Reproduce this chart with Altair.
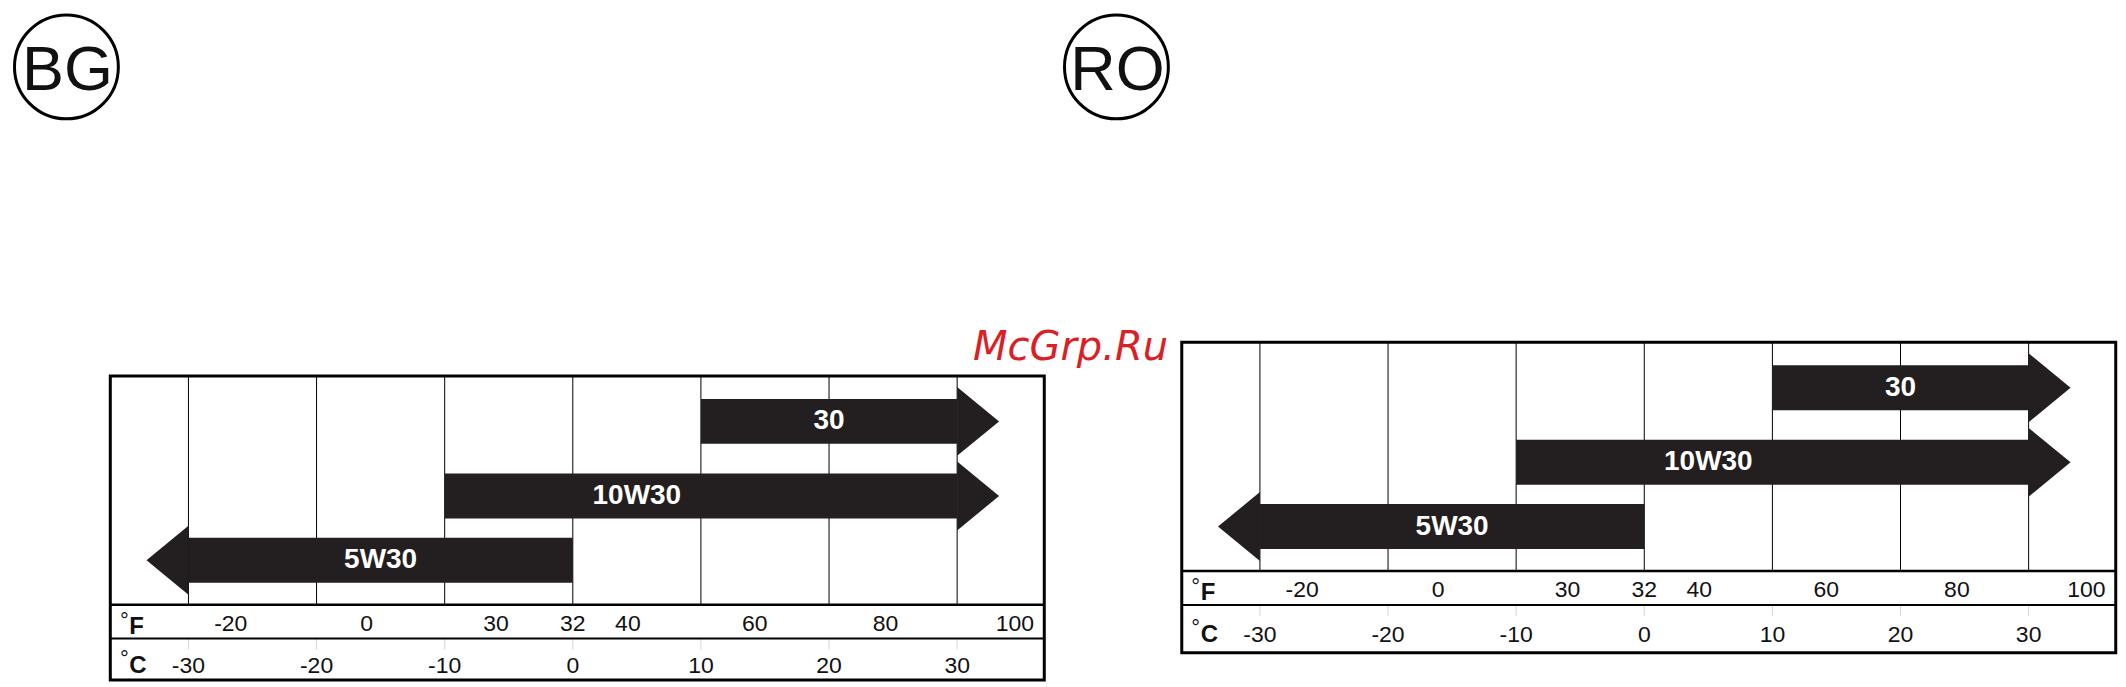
import altair as alt
import pandas as pd

# ---------------- data ----------------
grades = ["30", "10W30", "5W30"]
grade_from_c = [10, -10, -30]
grade_to_c = [30, 30, 0]
grade_arrow = ["right", "right", "left"]
grade_label_c = [20, 5, -15]

celsius_ticks = [-30, -20, -10, 0, 10, 20, 30]
fahrenheit_labels = ["-20", "0", "30", "32", "40", "60", "80", "100"]
fahrenheit_label_c = [-26.7, -16.1, -6.0, 0.0, 4.3, 14.2, 24.4, 34.5]

badges = ["BG", "RO"]
watermark = "McGrp.Ru"

# ---------------- layout / style ----------------
PX_PER_C = 12.83
BOX_LO, BOX_HI = -36.1, 36.8
H = 671
INK = "#231f20"
FONT = "Liberation Sans"
LANE_CENTER = {"30": 45.5, "10W30": 120.2, "5W30": 184.5}
BAR_HALF = 22.5
HEAD_HALF = 34.5
HEAD_LEN = 42.0
PLOT_H = 229
F_H = 34
k = HEAD_LEN / HEAD_HALF
PATH_R = f"M0,-1L{k:.3f},0L0,1Z"
PATH_L = f"M0,-1L{-k:.3f},0L0,1Z"

PANELS = [
    dict(badge="BG", width=1047, c30_px=177.7, box_top=365.0, c_h=41.5, badge_x=55.5, wm=False),
    dict(badge="RO", width=1063, c30_px=203.7, box_top=331.3, c_h=48, badge_x=60.0, wm=True),
]


def make_panel(p):
    lo = -30 - p["c30_px"] / PX_PER_C
    hi = lo + p["width"] / PX_PER_C
    xs = alt.Scale(domain=[lo, hi], nice=False, zero=False)
    ys = alt.Scale(domain=[0, H], reverse=True, nice=False, zero=False)

    def X(f):
        return alt.X(f, scale=xs, axis=None)

    def Y(f):
        return alt.Y(f, scale=ys, axis=None)

    top = p["box_top"]
    plot_bot = top + PLOT_H
    fc = plot_bot + F_H
    bot = fc + p["c_h"]
    f_base = plot_bot + 26
    c_base = fc + min(37.5, p["c_h"] - 7)

    bars = pd.DataFrame({
        "grade": grades, "lo": grade_from_c, "hi": grade_to_c,
        "dir": grade_arrow, "lab": grade_label_c,
    })
    bars["yc"] = [top + LANE_CENTER[g] for g in grades]
    bars["y0"] = bars["yc"] - BAR_HALF
    bars["y1"] = bars["yc"] + BAR_HALF
    bars["head"] = [h if d == "right" else l for l, h, d in zip(grade_from_c, grade_to_c, grade_arrow)]

    grid = pd.DataFrame({"c": celsius_ticks})
    grid["y0"] = top
    grid["y1"] = plot_bot
    grid["t0"] = fc
    grid["t1"] = fc + 11
    grid["cy"] = c_base
    grid["lab"] = [str(v) for v in celsius_ticks]

    flab = pd.DataFrame({"x": fahrenheit_label_c, "lab": fahrenheit_labels})
    flab["y"] = f_base

    box = pd.DataFrame({"x0": [BOX_LO], "x1": [BOX_HI], "y0": [top], "y1": [bot],
                        "s1": [plot_bot], "s2": [fc]})

    units = pd.DataFrame({"u": ["F", "C"], "x": [BOX_LO, BOX_LO],
                          "y": [f_base + 3, c_base],
                          "dy": [f_base - 3, c_base - 7]})

    layers = [
        alt.Chart(grid).mark_rule(color="black", strokeWidth=1).encode(
            x=X("c:Q"), y=Y("y0:Q"), y2="y1:Q"),
        alt.Chart(grid).mark_rule(color="#d6d6d6", strokeWidth=1).encode(
            x=X("c:Q"), y=Y("t0:Q"), y2="t1:Q"),
        alt.Chart(bars).mark_rect(color=INK).encode(
            x=X("lo:Q"), x2="hi:Q", y=Y("y0:Q"), y2="y1:Q"),
        alt.Chart(bars).mark_point(filled=True, opacity=1, color=INK, strokeWidth=0,
                                   size=(2 * HEAD_HALF) ** 2).encode(
            x=X("head:Q"), y=Y("yc:Q"),
            shape=alt.Shape("dir:N", scale=alt.Scale(domain=["right", "left"], range=[PATH_R, PATH_L]),
                            legend=None)),
        alt.Chart(bars).mark_text(color="white", font=FONT, fontWeight="bold", fontSize=28,
                                  align="center", baseline="middle").encode(
            x=X("lab:Q"), y=Y("yc:Q"), text="grade:N"),
        alt.Chart(box).mark_rect(fillOpacity=0, stroke="black", strokeWidth=3).encode(
            x=X("x0:Q"), x2="x1:Q", y=Y("y0:Q"), y2="y1:Q"),
        alt.Chart(box).mark_rule(color="black", strokeWidth=2.5).encode(
            x=X("x0:Q"), x2="x1:Q", y=Y("s1:Q")),
        alt.Chart(box).mark_rule(color="black", strokeWidth=2).encode(
            x=X("x0:Q"), x2="x1:Q", y=Y("s2:Q")),
        alt.Chart(flab).mark_text(font=FONT, fontSize=23, color="#111", align="center",
                                  baseline="alphabetic").encode(
            x=X("x:Q"), y=Y("y:Q"), text="lab:N"),
        alt.Chart(grid).mark_text(font=FONT, fontSize=23, color="#111", align="center",
                                  baseline="alphabetic").encode(
            x=X("c:Q"), y=Y("cy:Q"), text="lab:N"),
        alt.Chart(units).mark_text(font=FONT, fontSize=24, fontWeight="bold", color="#111",
                                   align="left", baseline="alphabetic", dx=19).encode(
            x=X("x:Q"), y=Y("y:Q"), text="u:N"),
        alt.Chart(units).mark_text(font=FONT, fontSize=22, color="#111", text="°",
                                   align="center", baseline="alphabetic", dx=14).encode(
            x=X("x:Q"), y=Y("dy:Q")),
    ]

    bdf = pd.DataFrame({"b": [p["badge"]]})
    cx, cy = p["badge_x"], 55.5
    layers.append(
        alt.Chart(bdf).mark_point(shape="circle", filled=False, color="black", strokeWidth=3,
                                  opacity=1, size=104 ** 2).encode(
            x=alt.value(cx), y=alt.value(cy)))
    layers.append(
        alt.Chart(bdf).mark_text(font=FONT, fontSize=63, color="#111", align="center",
                                 baseline="alphabetic").encode(
            x=alt.value(cx + 1), y=alt.value(cy + 23), text="b:N"))

    if p["wm"]:
        wdf = pd.DataFrame({"w": [watermark]})
        layers.append(
            alt.Chart(wdf).mark_text(font="DejaVu Sans", fontStyle="italic", fontSize=40,
                                     color="#dc1f26", align="center", baseline="alphabetic").encode(
                x=alt.value(14), y=alt.value(349), text="w:N"))

    return alt.layer(*layers).properties(width=p["width"], height=H)


chart = (
    alt.hconcat(*[make_panel(p) for p in PANELS], spacing=0, bounds="flush")
    .properties(padding={"left": 0, "top": 0, "right": 0, "bottom": 0})
    .configure(padding={"left": 0, "top": 0, "right": 0, "bottom": 0})
    .configure_view(stroke=None)
)

chart.save("out.html", embed_options={"renderer": "svg", "actions": False})
